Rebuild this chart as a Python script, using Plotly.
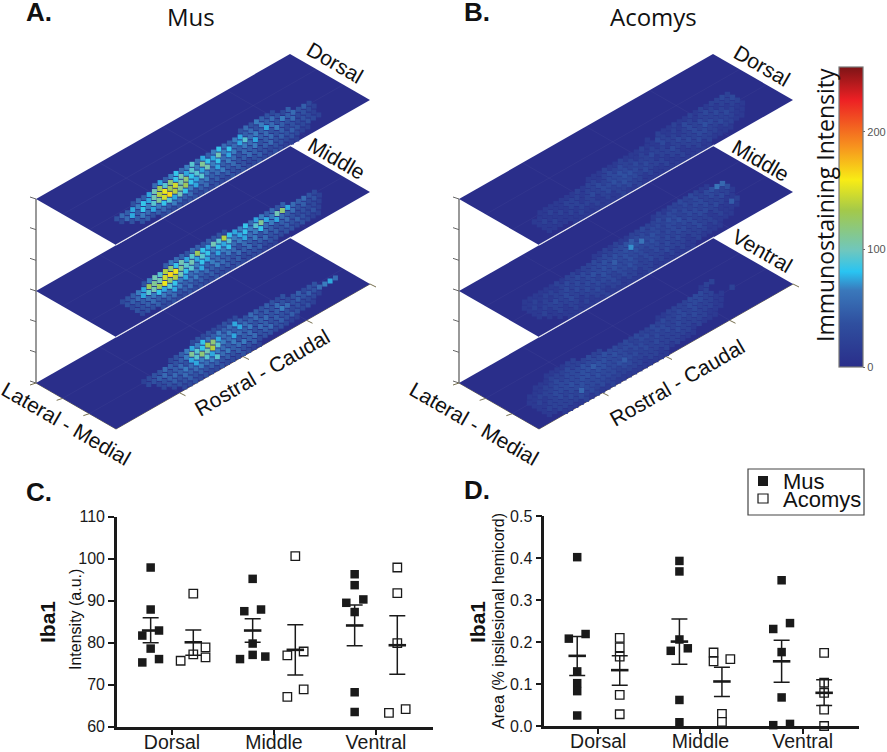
import plotly.graph_objects as go

# ---------- panels A / B: staining level per tissue cell ----------
MUS_DORSAL = [
 [0]*27+[3,5,3,6,4,3,2],
 [0]*10+[5,7,4,6,8,5,6,9,5,7,4,6,8,5,4,6,7,4,5,3,6,4,5,3,2,4],
 [0]*5+[3,5,4,7,10,13,9,12,8,10,7,9,6,11,8,7,10,6,8,5,7,9,5,6,4,7,5,3,6,4,5,3,4,2],
 [0]+[3,5,4,7,6,8,7,10,14,16,13,15,10,12,8,9,7,10,6,8,5,7,6,4,6,5,7,4,5,3,6,4,3,5,2,3,2,1],
 [0,2,5,7,4,8,6,9,11,15,17,14,11,13,8,7,9,6,5,7,4,6,5,3,5,4,6,3,4,5,3,4,2,3,2,3,2,1],
 [0,0,3,4,6,5,7,6,8,9,7,10,8,6,7,5,6,4,5,6,4,5,3,4,5,4,3,4,5,3,4,3,4,3,2,3,2,1],
 [0,0,0,3,4,3,4,5,4,6,5,4,5,3,4,5,3,4,3,4,3,4,3,2,3,4,3,2,3,3,2,3,2,1,1],
 [0]*6+[2,3,2,3,2,3,3,2,3,2,3,2,2,3,2,3,2,2,3,2,2,3,2,1,1,1],
]
MUS_MIDDLE = [
 [0]*13+[4,6,5,4,3,5,4,3,4,3,3,2],
 [0]*8+[3,6,10,9,14,12,8,10,7,9,13,8,7,10,9,14,8,7,6,8,5,7,6,4,5,3,4],
 [0]*3+[2,3,4,6,7,13,11,10,15,17,16,11,9,10,7,9,8,6,8,7,9,6,7,8,6,9,11,7,6,10,12,7,5,4,5,3,2],
 [0]*3+[3,4,5,7,9,10,13,16,12,14,10,8,9,6,8,7,5,7,6,8,5,6,7,5,6,8,5,6,7,5,4,5,3,4,2,3,1],
 [0]*3+[2,3,4,5,6,8,7,9,8,6,7,5,6,7,4,6,5,4,6,5,3,5,4,6,3,5,4,3,4,5,3,2,3,2,2,1],
 [0]*3+[3,3,4,5,4,6,5,7,6,4,5,6,4,5,4,6,5,4,3,5,4,5,3,4,5,3,4,3,4,3,4,3,2,3,1],
 [0]*3+[2,3,3,4,3,4,5,3,4,5,3,4,3,4,3,3,4,3,4,2,3,3,4,2,3,3,2,3,3,2,3,2,1,1],
 [0]*6+[2,2,3,2,2,3,2,3,2,2,3,2,2,2,3,2,2,2,2,1,1,1],
]
MUS_VENTRAL = [
 [0]*18+[2,3,2,3,2,2,3,2,2],
 [0]*13+[2,3,4,6,7,6,8,5,4,6,4,5,7,4,3,5,4,3,4,3,2,3],
 [0]*7+[1,2,3,3,5,4,3,4,6,11,9,8,13,12,7,5,6,4,7,5,4,5,3,4,3,5,3,2,3,4,2,3,3],
 [0]*7+[2,3,4,5,3,4,5,3,7,9,12,10,14,9,6,5,7,5,4,6,3,4,5,3,4,6,5,3,4,3,4,3,5,6,7,5],
 [0]*8+[2,3,4,5,4,6,5,7,6,9,7,6,5,4,6,3,4,5,3,5,4,3,4,3,3,2,3,2,2,2,1],
 [0]*8+[2,3,4,3,5,4,5,6,5,6,9,5,6,4,5,6,4,5,3,4,5,3,4,3,4,3,2,3,1],
 [0]*9+[2,3,3,4,3,4,3,4,4,3,4,3,4,3,3,4,2,3,3,2,3,2,1,1],
 [0]*10+[2,2,3,2,3,2,2,3,2,2,2,3,2,1,1],
]
ACO_DORSAL = [
 [0]*24+[1,0,2,1,1,2,1,1,2,1,2,1,2,2,3,2],
 [0]*12+[1,1,1,2,1,1,2,1,1,1,2,1,1,3,2,1,2,1,3,2,1,2,3,2,1,2,2,3],
 [0,0,1,1,1,1,1,1,1,2,1,2,2,1,2,3,2,3,2,2,1,2,1,2,1,3,2,2,1,2,3,2,3,2,2,3,2,1,2,2],
 [1,1,1,2,1,1,2,2,2,1,2,2,3,2,3,3,4,3,2,3,2,2,3,2,2,1,2,3,2,2,3,2,4,3,2,2,3,2,1,1],
 [1,2,1,1,2,1,2,2,1,2,3,2,3,3,4,3,4,4,3,2,3,2,1,2,2,3,2,2,3,2,3,3,2,2,3,2,2,1,1],
 [1,1,2,1,1,2,1,2,2,2,1,2,3,2,3,4,3,3,2,3,2,2,2,1,2,2,1,2,2,3,2,2,2,1,2,2,1,1],
 [1,1,1,1,1,1,2,1,1,2,1,2,1,2,2,3,2,2,1,2,1,1,2,1,1,2,1,1,2,1,2,1,1,1,1],
 [0,0,0,0,1,1,1,1,1,1,1,1,1,2,1,1,2,1,1,1,1,1,1,1,1,1,1,1,1,1],
]
ACO_MIDDLE = [
 [0]*27+[1,2,1,2,2,3,2,3,2,1,1],
 [0]*15+[1,1,2,1,2,1,1,2,2,3,2,2,3,2,3,3,2,3,2,3,2,3,4,7,6],
 [0,1,1,1,1,1,1,2,1,2,2,1,2,2,3,2,3,2,3,3,4,5,3,3,2,3,3,2,4,3,2,3,2,3,3,2,3,2,2,4],
 [1,1,2,1,2,2,1,2,3,2,3,3,2,3,3,4,3,4,3,4,8,4,7,3,4,3,2,3,3,4,2,3,3,2,3,2,2,3,2,1],
 [1,2,1,2,1,2,2,3,2,3,2,3,4,3,4,3,5,3,4,3,4,3,3,4,3,2,3,3,2,3,3,2,3,3,2,3,2,1,1],
 [1,1,2,2,3,2,3,2,3,2,3,3,2,4,3,4,3,3,4,3,3,2,3,3,2,3,2,3,3,2,3,2,2,1,2,1,1,5,2],
 [1,2,1,2,2,2,3,2,2,3,2,3,3,3,2,3,3,4,3,2,3,2,3,2,3,2,3,2,2,2,3,2,2,1,2,1,1,1],
 [0,1,1,2,1,2,2,1,2,2,3,2,2,3,2,3,2,3,2,2,3,2,2,3,2,2,2,1,2,2,2,1,2,1,1,1],
 [0,0,1,1,1,2,1,2,1,2,2,1,2,2,1,2,2,1,2,2,1,2,1,2,1,2,1,1,2,1,1,1,1],
 [0,0,0,1,1,1,1,1,1,1,2,1,1,1,1,1,1,1,2,1,1,1,1,1,1,1,1],
]
ACO_VENTRAL = [
 [0]*6+[1,1,1,1,2,2]+[0]*23+[1,2,2],
 [0]*3+[1,1,1,2,2,2,3,2,2,2,3,2,2]+[0]*10+[1,1,2,2,2,2,3,3,3,2],
 [0,1,1,1,2,2,3,2,3,3,3,4,3,3,3,4,3,3,2,3,2,3,2,2,3,2,3,2,2,3,2,3,3,3,2,2],
 [1,1,2,2,2,3,3,3,3,3,4,4,5,4,4,3,4,3,3,3,2,3,3,2,3,3,2,2,3,3,2,3,2,2,2,1,1,0,2],
 [1,2,1,2,3,3,3,4,3,4,4,3,4,4,3,3,3,3,2,3,3,2,2,3,2,3,2,3,2,2,3,2,2,2,1,1],
 [1,1,2,2,3,2,3,3,4,3,3,4,3,3,3,4,5,3,3,2,3,2,3,2,2,2,3,2,2,2,2,2,1,1,1],
 [1,2,2,2,2,3,2,6,3,3,3,3,3,3,2,3,3,2,2,2,2,2,2,2,2,2,2,2,1,2,1,1,1],
 [1,1,2,2,2,2,3,2,3,2,3,2,2,2,2,2,2,2,1,2,2,1,2,1,2,1,1,1],
 [0,0,1,1,1,1,2,1,2,1,1,2,1,1,1,1,1,1,1,1,1,1],
]
COLOR_STOPS = [(0,"#2a2e8a"),(37,"#2f4f9f"),(65,"#3a78bb"),(81,"#29c4f2"),(99,"#6fc7be"),
               (133,"#a3c94a"),(159,"#f8ec15"),(187,"#f7941e"),(227,"#ed2024"),(255,"#7d1416")]
COLORBAR_TICKS = [0,100,200]

# ---------- panels C / D ----------
GROUPS = ["Dorsal","Middle","Ventral"]
C_MUS = [[97.9,87.9,82.9,81.7,78.6,76.1,75.3],[95.2,87.9,87.5,79.8,77.1,76.7,76.1],[96.3,93.7,90.3,89.5,87.3,68.2,63.5]]
C_MUS_JIT = [[0,0,.082,-.082,0,.082,-.082],[0,.082,-.082,0,0,.124,-.124],[0,0,.085,-.082,0,0,0]]
C_MUS_MEAN = [82.9,82.9,84.1]; C_MUS_HI = [85.95,85.7,89.0]; C_MUS_LO = [80.0,80.1,79.3]
C_ACO = [[91.7,78.9,77.2,76.5,75.7],[100.6,77.9,77.0,68.9,67.1],[97.9,91.8,79.9,64.2,63.3]]
C_ACO_JIT = [[0,.12,0,.12,-.124],[0,.082,-.078,.082,-.078],[0,0,0,.082,-.082]]
C_ACO_MEAN = [80.1,78.3,79.4]; C_ACO_HI = [83.0,84.3,86.4]; C_ACO_LO = [77.0,72.3,72.5]

D_MUS = [[.402,.219,.208,.130,.102,.083,.025],[.393,.368,.206,.185,.179,.062,.009],[.347,.245,.231,.176,.068,.005,.002]]
D_MUS_JIT = [[0,.082,-.082,0,0,0,0],[0,0,0,.082,-.085,0,0],[0,.082,-.082,0,0,.082,-.082]]
D_MUS_MEAN = [.167,.201,.154]; D_MUS_HI = [.213,.255,.204]; D_MUS_LO = [.120,.147,.104]
D_ACO = [[.21,.187,.165,.074,.028],[.175,.154,.159,.029,.010],[.174,.103,.079,.039,.0]]
D_ACO_JIT = [[0,0,0,0,0],[-.082,-.082,.082,0,0],[0,0,0,0,0]]
D_ACO_MEAN = [.133,.106,.079]; D_ACO_HI = [.167,.140,.110]; D_ACO_LO = [.097,.070,.049]

INK = "#1a1a1a"; SANS = "Liberation Sans"; HUMANIST = "Open Sans"
W, H = 887, 752
PLATE = COLOR_STOPS[0][1]

fig = go.Figure()

# oblique projection of the stacked slices on to the page
def project(left, u, v, level):
    return left + 254*u + 80*v, 383 - 92*level - 145*u + 46*v

def poly(left, pts, level, **kw):
    xy = [project(left, u, v, level) for u, v in pts]
    fig.add_trace(go.Scatter(x=[p[0] for p in xy], y=[p[1] for p in xy], xaxis="x", yaxis="y",
                             hoverinfo="skip", showlegend=False, **kw))

def plate(left, level, cells, base, gain, size):
    poly(left, [(0,0),(1,0),(1,1),(0,1),(0,0)], level, mode="lines", fill="toself",
         fillcolor=PLATE, line=dict(width=0, color=PLATE))
    for f in (.25,.5,.75):
        poly(left, [(f,0),(f,1)], level, mode="lines", line=dict(width=.7, color="rgba(255,255,255,.05)"))
    for f in (1/3,2/3):
        poly(left, [(0,f),(1,f)], level, mode="lines", line=dict(width=.7, color="rgba(255,255,255,.05)"))
    px, py, pc = [], [], []
    skip = 10 - len(cells)
    for r, row in enumerate(cells):
        for c, val in enumerate(row):
            if val:
                x, y = project(left, .06 + .021*(c+.5), .375 + .0625*(r+skip+.5), level)
                px.append(x); py.append(y); pc.append(base + val*gain)
    fig.add_trace(go.Scatter(x=px, y=py, xaxis="x", yaxis="y", mode="markers", hoverinfo="skip", showlegend=False,
                             marker=dict(symbol="square", size=size, color=pc, coloraxis="coloraxis", line=dict(width=0))))
    if level > 0:
        poly(left, [(0,1),(.69,1)], level, mode="lines", line=dict(width=1.3, color="#e8e8f0"))

def frame(left):
    a = project(left,0,0,0); b = project(left,0,0,2)
    fig.add_trace(go.Scatter(x=[a[0],b[0]], y=[a[1],b[1]], xaxis="x", yaxis="y", mode="lines", hoverinfo="skip",
                             showlegend=False, line=dict(color="#808080", width=1.6)))
    zx, zy = [], []
    for k in range(7):
        p = project(left,0,0,k/3)
        zx += [p[0]-6, p[0], None]; zy += [p[1]-2, p[1], None]
    ex, ey = [], []
    for f in (0,1/3,2/3):
        p = project(left,0,f,0)
        ex += [p[0]-6, p[0], None]; ey += [p[1]+2, p[1], None]
    for f in (.25,.5,.75,1):
        p = project(left,f,1,0)
        ex += [p[0], p[0]+6, None]; ey += [p[1], p[1]+3, None]
    q = [project(left,0,0,0), project(left,0,1,0), project(left,1,1,0)]
    ex += [q[0][0],q[1][0],q[2][0],None]; ey += [q[0][1],q[1][1],q[2][1],None]
    fig.add_trace(go.Scatter(x=zx, y=zy, xaxis="x", yaxis="y", mode="lines", hoverinfo="skip", showlegend=False,
                             line=dict(color="#666666", width=1)))
    fig.add_trace(go.Scatter(x=ex, y=ey, xaxis="x", yaxis="y", mode="lines", hoverinfo="skip", showlegend=False,
                             line=dict(color="#77704f", width=1)))

for left, stack, base, gain, size in ((36,(MUS_VENTRAL,MUS_MIDDLE,MUS_DORSAL),12,9,5),
                                      (459,(ACO_VENTRAL,ACO_MIDDLE,ACO_DORSAL),6,8,5.4)):
    frame(left)
    for level, cells in enumerate(stack):
        plate(left, level, cells, base, gain, size)

# ---------- scatter panels ----------
def group(xa, ya, offset, vals, jit, mean, hi, lo, filled):
    xs = [g + offset + j for g, (row, jr) in enumerate(zip(vals, jit)) for j in jr]
    ys = [v for row in vals for v in row]
    fig.add_trace(go.Scatter(x=xs, y=ys, xaxis=xa, yaxis=ya, mode="markers", showlegend=False, cliponaxis=False,
                             marker=dict(symbol="square", size=8.5, color=INK if filled else "white",
                                         line=dict(color=INK, width=0 if filled else 1.3))))
    cx = [g + offset for g in range(3)]
    fig.add_trace(go.Scatter(x=cx, y=mean, xaxis=xa, yaxis=ya, mode="markers", showlegend=False, cliponaxis=False,
                             error_y=dict(type="data", symmetric=False,
                                          array=[h-m for h, m in zip(hi, mean)],
                                          arrayminus=[m-l for m, l in zip(mean, lo)],
                                          color=INK, thickness=1.5, width=8),
                             marker=dict(symbol="line-ew", size=12.5, line=dict(color=INK, width=2.6))))

group("x2","y2",-.209,C_MUS,C_MUS_JIT,C_MUS_MEAN,C_MUS_HI,C_MUS_LO,True)
group("x2","y2",.209,C_ACO,C_ACO_JIT,C_ACO_MEAN,C_ACO_HI,C_ACO_LO,False)
group("x3","y3",-.206,D_MUS,D_MUS_JIT,D_MUS_MEAN,D_MUS_HI,D_MUS_LO,True)
group("x3","y3",.21,D_ACO,D_ACO_JIT,D_ACO_MEAN,D_ACO_HI,D_ACO_LO,False)

def xax(l, r, rng):
    return dict(domain=[l/W, r/W], range=rng, tickmode="array", tickvals=[0,1,2], ticktext=GROUPS,
                showgrid=False, zeroline=False, showline=True, linecolor=INK, linewidth=2.6,
                ticks="outside", ticklen=5, tickwidth=2, tickcolor=INK, ticklabelstandoff=-9,
                tickfont=dict(family=SANS, size=19.5, color=INK))
def yax(t, b, rng, vals, fmt):
    return dict(domain=[1-b/H, 1-t/H], range=rng, tickmode="array", tickvals=vals, tickformat=fmt,
                showgrid=False, zeroline=False, showline=True, linecolor=INK, linewidth=2.6,
                ticks="outside", ticklen=6, tickwidth=2, tickcolor=INK,
                tickfont=dict(family=SANS, size=16, color=INK))

ann = []
def text(x, y, s, size, angle=0, fam=SANS, bold=False, color="#111111", anchor="center"):
    ann.append(dict(x=x, y=y, xref="x", yref="y", text=f"<b>{s}</b>" if bold else s, showarrow=False,
                    font=dict(family=fam, size=size, color=color), textangle=angle,
                    xanchor=anchor, yanchor="middle"))

for s, x, y in (("A.",39,12),("B.",477,12),("C.",39,492),("D.",477,490)):
    text(x, y, s, 26, bold=True)
text(191,16,"Mus",24,fam=HUMANIST); text(653,16,"Acomys",24,fam=HUMANIST)
text(335,62,"Dorsal",21,30); text(337,158,"Middle",21,30)
text(762,65,"Dorsal",21,30); text(761,160,"Middle",21,30); text(762,250,"Ventral",21,30)
text(66,423,"Lateral - Medial",21,30); text(474,423,"Lateral - Medial",21,30)
text(262,372,"Rostral - Caudal",21,-30); text(677,382,"Rostral - Caudal",21,-30)
text(825,205,"Immunostaining Intensity",23,-90,fam=HUMANIST)
text(47,622,"Iba1",21,-90,bold=True); text(75,620,"Intensity (a.u.)",16,-90)
text(477,622,"Iba1",21,-90,bold=True); text(498,621,"Area (% ipsilesional hemicord)",16,-90)
text(781,481,"Mus",22,anchor="left"); text(781,499,"Acomys",22,anchor="left")

shapes = [
    dict(type="rect", xref="x", yref="y", x0=748, x1=864, y0=469, y1=515, line=dict(color="#444444", width=1.2)),
    dict(type="rect", xref="x", yref="y", x0=758, x1=768, y0=476, y1=486, fillcolor=INK, line=dict(width=0)),
    dict(type="rect", xref="x", yref="y", x0=758, x1=768, y0=494, y1=503, fillcolor="white", line=dict(color=INK, width=1.2)),
]

stops = [[v/255, c] for v, c in COLOR_STOPS]
fig.update_layout(
    width=W, height=H, margin=dict(l=0,r=0,t=0,b=0,autoexpand=False), paper_bgcolor="white", plot_bgcolor="rgba(0,0,0,0)",
    showlegend=False, annotations=ann, shapes=shapes,
    xaxis=dict(domain=[0,1], range=[0,W], visible=False, fixedrange=True),
    yaxis=dict(domain=[0,1], range=[H,0], visible=False, fixedrange=True),
    xaxis2=dict(xax(117,433,[-.539,2.559]), anchor="y2"),
    yaxis2=dict(yax(516.7,726.7,[60,110],[60,70,80,90,100,110],"d"), anchor="x2"),
    xaxis3=dict(xax(544.3,859.3,[-.528,2.554]), anchor="y3"),
    yaxis3=dict(yax(516,726,[0,.5],[0,.1,.2,.3,.4,.5],".1f"), anchor="x3"),
    coloraxis=dict(cmin=0, cmax=255, colorscale=stops, colorbar=dict(
        x=839/W, xanchor="left", y=1-367/H, yanchor="bottom", len=300/H, lenmode="fraction",
        thickness=24, thicknessmode="pixels", xpad=0, ypad=0, outlinecolor="#777777", outlinewidth=1.2,
        tickmode="array", tickvals=COLORBAR_TICKS, ticks="outside", ticklen=2, tickcolor="#666666",
        tickfont=dict(family=SANS, size=11, color="#555555"))),
)
fig.write_html("out.html", config={"displayModeBar": False}, post_script="document.body.style.margin='0';")
